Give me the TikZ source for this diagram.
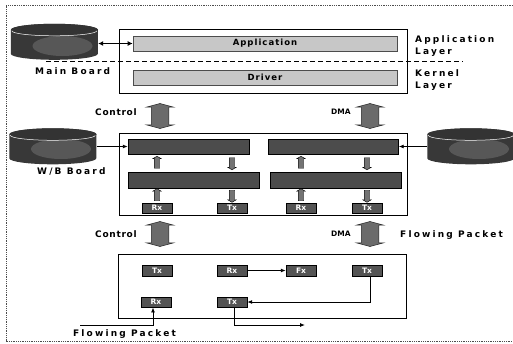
\documentclass[tikz,border=0pt]{standalone}
\usepackage{fontspec}
\setmainfont{DejaVu Sans}
\usetikzlibrary{arrows.meta,shapes.arrows}
\definecolor{barlight}{gray}{0.78}
\definecolor{bardark}{gray}{0.30}
\definecolor{smalldark}{gray}{0.33}
\newcommand{\mydisk}[1]{%
 \fill[black!78] (#1.north west) ++(0,6) -- ++(0,24)
   arc[start angle=180,end angle=360,x radius=43.5pt,y radius=6pt] -- ++(0,-24)
   arc[start angle=0,end angle=180,x radius=43.5pt,y radius=6pt] -- cycle;
 \fill[black!66] (#1.center) ++(8,4) ellipse[x radius=30pt,y radius=10pt];
 \fill[black!80] (#1.north) ++(0,6) ellipse[x radius=43.5pt,y radius=6pt];
 \draw[white,line width=0.5pt] (#1.north west) ++(1,7)
   arc[start angle=180,end angle=360,x radius=42.5pt,y radius=5pt];
}
\tikzset{
 x=1pt,y=-1pt,
 lbl/.style={font=\fontsize{9}{12}\selectfont\bfseries\addfontfeatures{LetterSpace=8},inner sep=0pt,align=left},
 widelbl/.style={inner sep=0pt,align=left,font=\fontsize{9}{12}\selectfont\bfseries\addfontfeatures{LetterSpace=24}},
 dmalbl/.style={inner sep=0pt,font=\fontsize{7.5}{9}\selectfont\bfseries},
 frame/.style={draw=black,line width=0.9pt,fill=white,inner sep=0pt},
 lightbar/.style={draw=black!70,line width=0.7pt,fill=barlight,inner sep=0pt,font=\fontsize{8.5}{10}\selectfont\bfseries\addfontfeatures{LetterSpace=12}},
 darkbar/.style={draw=black,fill=bardark,inner sep=0pt},
 smallbox/.style={draw=black,fill=smalldark,minimum width=30pt,minimum height=10.5pt,inner sep=0pt,text=white,font=\fontsize{7.5}{8}\selectfont\bfseries},
 diskbox/.style={inner sep=0pt,minimum width=87pt},
 conn/.style={line width=0.9pt,-{Latex[length=5pt,width=4pt]}},
 bigarrow/.style={double arrow,draw=black!85,fill=black!58,line width=0.5pt,inner sep=0pt,minimum height=25pt,double arrow head extend=5pt,double arrow tip angle=150,rotate=90},
 tinyup/.style={single arrow,draw=black,fill=black!55,inner sep=0pt,minimum height=12pt,single arrow head extend=1.5pt,single arrow tip angle=120,rotate=90},
 tinydown/.style={tinyup,rotate=180},
}
\newcommand{\bigshaft}{\rule{0pt}{17pt}}
\newcommand{\tinyshaft}{\rule{0pt}{5pt}}
\begin{document}
\begin{tikzpicture}
\useasboundingbox (0,0) rectangle (513,343);
\draw[black!70,densely dotted,line width=0.8pt] (513,5) -- (6,5) -- (6,341) -- (513,341);
% top block
\node[frame,minimum width=288pt,minimum height=64pt] (topbox) at (263,61) {};
\node[lightbar,minimum width=264pt,minimum height=15pt] (app) at (265,43.5) {Application};
\node[lightbar,minimum width=264pt,minimum height=15pt] (drv) at (265,77.5) {Driver};
\coordinate (dashL) at (46,61);
\coordinate (dashR) at (463,61);
\draw[line width=0.8pt,dash pattern=on 5pt off 3pt] (dashL) -- (dashR);
\node[diskbox,minimum height=36pt] (d1) at (54.5,42) {};
\mydisk{d1}
\draw[line width=0.9pt,{Latex[length=5pt,width=5pt]}-{Latex[length=5pt,width=5pt]}] (d1.east |- app) -- (app.west);
\node[widelbl,anchor=west] (mb) at (35,71) {Main Board};
\node[widelbl,anchor=west] (al) at (415,46) {Application\\Layer};
\node[widelbl,anchor=west] (kl) at (415,80) {Kernel\\Layer};
% arrows between blocks
\node[lbl,anchor=west] (c1) at (95,112) {Control};
\node[bigarrow] (a1) at (160,116) {\bigshaft};
\node[dmalbl,anchor=west] (dma1) at (331,112) {DMA};
\node[bigarrow] (a2) at (370,116) {\bigshaft};
% middle block
\node[frame,minimum width=288pt,minimum height=82pt] (midbox) at (263,174) {};
\node[darkbar,minimum width=121pt,minimum height=15pt] (b1) at (188.5,146.5) {};
\node[darkbar,minimum width=130pt,minimum height=15pt] (b2) at (333.5,146.5) {};
\node[darkbar,minimum width=131pt,minimum height=16pt] (b3) at (193.5,180) {};
\node[darkbar,minimum width=131pt,minimum height=16pt] (b4) at (335.5,180) {};
\node[smallbox] (m1) at (157,208) {Rx};
\node[smallbox] (m2) at (232,208) {Tx};
\node[smallbox] (m3) at (301,208) {Rx};
\node[smallbox] (m4) at (367,208) {Tx};
\node[tinyup] at (157,163) {\tinyshaft};
\node[tinydown] at (232,163) {\tinyshaft};
\node[tinyup] at (301,163) {\tinyshaft};
\node[tinydown] at (367,163) {\tinyshaft};
\node[tinyup] at (157,195.5) {\tinyshaft};
\node[tinydown] at (232,195.5) {\tinyshaft};
\node[tinyup] at (301,195.5) {\tinyshaft};
\node[tinydown] at (367,195.5) {\tinyshaft};
\node[diskbox,minimum height=33pt] (d2) at (53,145) {};
\mydisk{d2}
\node[diskbox,minimum height=33pt] (d3) at (471,145) {};
\mydisk{d3}
\draw[conn] (d2.east |- b1) -- (b1.west);
\draw[conn] (d3.west |- b2) -- (b2.east);
\node[widelbl,anchor=west] (wb) at (37,171) {W/B Board};
% lower arrows
\node[lbl,anchor=west] (c2) at (95,234) {Control};
\node[bigarrow] (a3) at (160,234) {\bigshaft};
\node[dmalbl,anchor=west] (dma2) at (331,234) {DMA};
\node[bigarrow] (a4) at (370,234) {\bigshaft};
\node[widelbl,anchor=west] (fp1) at (400,235) {Flowing Packet};
% bottom block
\node[frame,minimum width=288pt,minimum height=64pt] (botbox) at (262,286) {};
\node[smallbox] (t1) at (157,270.5) {Tx};
\node[smallbox] (t2) at (232,270.5) {Rx};
\node[smallbox] (t3) at (301,270.5) {Fx};
\node[smallbox] (t4) at (367,270.5) {Tx};
\node[smallbox] (t5) at (156,302) {Rx};
\node[smallbox] (t6) at (232,302) {Tx};
\draw[conn] (t2.east) -- (t3.west);
\coordinate (c4) at (370,302);
\draw[conn] (t4.south -| c4) -- (c4) -- (t6.east);
\coordinate (in1) at (80,325);
\coordinate (in2) at (153,325);
\draw[conn] (in1) -- (in2) -- (in2 |- t5.south);
\coordinate (out1) at (234,325);
\coordinate (out2) at (305,325);
\draw[conn] (out1 |- t6.south) -- (out1) -- (out2);
\node[widelbl,anchor=west] (fp2) at (73,334) {Flowing Packet};
\end{tikzpicture}
\end{document}
